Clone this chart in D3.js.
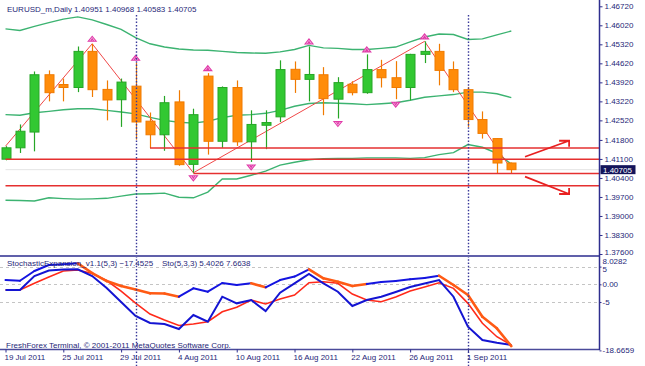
<!DOCTYPE html>
<meta charset="utf-8">
<style>
body {margin: 0; background: #fff;}
svg text {font-family: "Liberation Sans", Arial, sans-serif; font-size: 8px; fill: #1f1f78;}
</style>
<html>
<body>
<script src="https://d3js.org/d3.v7.min.js"></script>
<script>
var width = 645,
    height = 366;

// daily bars, EURUSD
var dates = ["2011-07-19","2011-07-20","2011-07-21","2011-07-22","2011-07-25","2011-07-26","2011-07-27","2011-07-28","2011-07-29",
  "2011-08-01","2011-08-02","2011-08-03","2011-08-04","2011-08-05","2011-08-08","2011-08-09","2011-08-10","2011-08-11","2011-08-12",
  "2011-08-15","2011-08-16","2011-08-17","2011-08-18","2011-08-19","2011-08-22","2011-08-23","2011-08-24","2011-08-25","2011-08-26",
  "2011-08-29","2011-08-30","2011-08-31","2011-09-01","2011-09-02","2011-09-05","2011-09-06"];
var open  = [1.4109,1.4151,1.4209,1.4420,1.4384,1.4373,1.4506,1.4366,1.4328,1.4378,1.4249,1.4199,1.4320,1.4090,1.4415,1.4175,1.4373,1.4173,
  1.4234,1.4265,1.4440,1.4403,1.4420,1.4330,1.4385,1.4354,1.4439,1.4409,1.4373,1.4495,1.4506,1.4439,1.4365,1.4255,1.4185,1.40951];
var high  = [1.4157,1.4237,1.4432,1.4436,1.4406,1.4524,1.4534,1.4399,1.4406,1.4464,1.4281,1.4342,1.4363,1.4295,1.4426,1.4377,1.4399,1.4289,
  1.4289,1.4473,1.4469,1.4524,1.4448,1.4411,1.4396,1.4495,1.4475,1.4470,1.4497,1.4543,1.4534,1.4469,1.4375,1.4285,1.4186,1.40968];
var low   = [1.4105,1.4132,1.4138,1.4322,1.4322,1.4356,1.4338,1.4252,1.4228,1.4181,1.4150,1.4140,1.4085,1.4059,1.4126,1.4151,1.4158,1.4099,
  1.4146,1.4246,1.4353,1.4322,1.4271,1.4259,1.4344,1.4350,1.4373,1.4330,1.4326,1.4463,1.4381,1.4356,1.4228,1.4185,1.4057,1.40583];
var close = [1.4151,1.4212,1.4420,1.4354,1.4373,1.4506,1.4365,1.4327,1.4393,1.4246,1.4199,1.4317,1.4089,1.4273,1.4175,1.4373,1.4173,1.4237,
  1.4244,1.4439,1.4403,1.4421,1.4332,1.4391,1.4354,1.4439,1.4409,1.4373,1.4495,1.4506,1.4436,1.4365,1.4255,1.4204,1.4095,1.40705];

// bollinger bands
var bbUpper  = [1.4589,1.4583,1.4598,1.4612,1.4625,1.4633,1.4622,1.4605,1.4587,1.4557,1.4534,1.4522,1.4515,1.4511,1.4510,1.4506,1.4502,1.4500,
  1.4499,1.4504,1.4513,1.4528,1.4519,1.4517,1.4513,1.4513,1.4517,1.4522,1.4541,1.4559,1.4570,1.4568,1.4550,1.4552,1.4567,1.4581];
var bbMiddle = [1.4273,1.4271,1.4280,1.4285,1.4291,1.4295,1.4295,1.4289,1.4283,1.4276,1.4263,1.4252,1.4245,1.4242,1.4249,1.4262,1.4271,1.4273,
  1.4278,1.4289,1.4304,1.4314,1.4317,1.4315,1.4313,1.4310,1.4313,1.4317,1.4326,1.4337,1.4342,1.4347,1.4356,1.4356,1.4350,1.4336];
var bbLower  = [1.3958,1.3957,1.3955,1.3967,1.3964,1.3962,1.3963,1.3965,1.3973,1.3981,1.3982,1.3984,1.3969,1.3967,1.3988,1.4036,1.4036,1.4050,
  1.4065,1.4087,1.4098,1.4107,1.4111,1.4112,1.4112,1.4114,1.4114,1.4114,1.4112,1.4115,1.4126,1.4133,1.4163,1.4153,1.4131,1.4091];

// drawn objects
var levels = [1.41506, 1.41091, 1.40565, 1.40110];
var levelStart = [10, 0, 13, 0];
var zigzagBars = [0, 6, 13, 29, 35];
var zigzagPrices = [1.4157, 1.4534, 1.4059, 1.4543, 1.4072];
var fractalUp = [6, 9, 14, 21, 25, 29];
var fractalDown = [13, 17, 23, 27];
var arrowFrom = [[35.95, 1.4118], [35.95, 1.4045]];
var arrowTo = [[39, 1.4177], [39, 1.3981]];
var separators = ["2011-08-01", "2011-09-01"];
var bid = 1.40705;

var priceTicks = [1.376,1.383,1.390,1.397,1.404,1.411,1.418,1.4252,1.4322,1.4392,1.4462,1.4532,1.4602,1.4672];
var dateTicks = ["2011-07-19","2011-07-25","2011-07-29","2011-08-04","2011-08-10","2011-08-16","2011-08-22","2011-08-26","2011-09-01"];

// sub window: StochasticExpansion + Sto(5,3,3)
var seLine    = [1.21,1.02,3.76,5.45,5.65,5.93,3.19,0.93,-0.48,-1.47,-2.54,-2.6,-3.5,-1.13,-2.09,0.37,-0.2,0.28,
  -0.85,1.21,2.2,4.24,1.69,0.73,-0.48,0.08,0.65,0.93,1.41,1.78,2.43,-0.2,-3.02,-9.15,-12.43,-17.4525];
var seFalling = [6,7,8,9,10,11,12,18,22,23,24,25,31,32,33,34,35];
var stoMain   = [-1.61,-1.61,2.34,3.9,4.18,4.24,2.34,-1.05,-5.0,-8.95,-10.93,-11.21,-12.63,-8.67,-10.56,-3.5,-5.37,-4.44,
  -7.54,-2.37,0.28,2.91,0.28,-2.09,-6.13,-4.44,-3.5,-2.18,-0.76,0.23,1.21,-3.5,-11.98,-15.73,-16.5,-17.15];
var stoSignal = [-1.61,-1.61,0.28,2.06,3.76,4.04,3.05,1.07,-1.89,-5.28,-8.39,-10.08,-11.64,-11.21,-10.56,-7.74,-6.5,-4.44,
  -5.56,-4.15,-3.02,0.45,0.73,0.28,-2.74,-4.44,-4.92,-3.59,-1.89,-0.76,0.45,-1.13,-5.37,-11.02,-14.8,-17.15];
var subTicks = [8.0282, 5, 0, -5, -18.6659];
var subTickLabels = ["8.0282", "5", "0.00", "-5", "-18.6659"];

var svg = d3.select("body").append("svg")
    .attr("width", width)
    .attr("height", height);

var x = d3.scaleLinear().domain([0, dates.length - 1]).range([5.5, 511.3]);
var y = d3.scaleLinear().domain([1.376, 1.4672]).range([254, 6.3]);
var ySub = d3.scaleLinear().domain([-18.6659, 8.0282]).range([350.4, 255.9]);
var idx = function(d) { return dates.indexOf(d); };
var parse = d3.timeParse("%Y-%m-%d"), fmt = d3.timeFormat("%-d %b %Y");

svg.append("clipPath").attr("id", "main").append("rect").attr("width", 599).attr("height", 255);
svg.append("clipPath").attr("id", "sub").append("rect").attr("y", 257).attr("width", 599).attr("height", 92);

var main = svg.append("g").attr("clip-path", "url(#main)");

// bid line
main.append("line")
    .attr("x1", x(0)).attr("x2", 599)
    .attr("y1", y(bid)).attr("y2", y(bid))
    .attr("stroke", "#e4e4e4").attr("stroke-width", 1);

// bands
var bandLine = function(arr) {
  return d3.line().x(function(d, i) { return x(i); }).y(function(d) { return y(d); })(arr);
};
[bbUpper, bbMiddle, bbLower].forEach(function(b) {
  main.append("path").attr("d", bandLine(b))
      .attr("fill", "none").attr("stroke", "#3cb371").attr("stroke-width", 1.4);
});

// zigzag
main.append("path")
    .attr("d", d3.line().x(function(d) { return x(d); }).y(function(d, i) { return y(zigzagPrices[i]); })(zigzagBars))
    .attr("fill", "none").attr("stroke", "#f04848").attr("stroke-width", 1);

// candles
var candles = main.selectAll("g.candle")
    .data(dates)
    .enter().append("g")
    .attr("class", "candle");

candles.each(function(d, i) {
  var g = d3.select(this),
      up = close[i] >= open[i],
      col = up ? "#32c832" : "#ff8c0a",
      edge = up ? "#26a626" : "#f07a00";
  g.append("line")
      .attr("x1", Math.round(x(i)) + 0.5).attr("x2", Math.round(x(i)) + 0.5)
      .attr("y1", y(high[i])).attr("y2", y(low[i]))
      .attr("stroke", edge).attr("stroke-width", 1.2);
  g.append("rect")
      .attr("x", Math.round(x(i)) - 4)
      .attr("width", 9)
      .attr("y", y(Math.max(open[i], close[i])))
      .attr("height", Math.max(1.5, Math.abs(y(open[i]) - y(close[i]))))
      .attr("fill", col).attr("stroke", edge).attr("stroke-width", 1);
});

// horizontal levels
main.selectAll("line.level")
    .data(levels)
    .enter().append("line")
    .attr("class", "level")
    .attr("x1", function(d, i) { return x(levelStart[i]); })
    .attr("x2", 599)
    .attr("y1", function(d) { return y(d); })
    .attr("y2", function(d) { return y(d); })
    .attr("stroke", "#e53030").attr("stroke-width", 1.5);

// fractals
main.selectAll("path.fup")
    .data(fractalUp)
    .enter().append("path")
    .attr("transform", function(d) { return "translate(" + x(d) + "," + (y(high[d]) - 5) + ")"; })
    .attr("d", "M-4,2.5L0,-2.5L4,2.5ZM-1.5,2.5L0,0L1.5,2.5")
    .attr("fill", "#f7c6ea").attr("stroke", "#e03aa8").attr("stroke-width", 1.1);
main.selectAll("path.fdn")
    .data(fractalDown)
    .enter().append("path")
    .attr("transform", function(d) { return "translate(" + x(d) + "," + (y(low[d]) + 5.5) + ")"; })
    .attr("d", "M-4,-2.5L0,2.5L4,-2.5ZM-1.5,-2.5L0,0L1.5,-2.5")
    .attr("fill", "#f7c6ea").attr("stroke", "#e03aa8").attr("stroke-width", 1.1);

// arrows
arrowFrom.forEach(function(f, k) {
  var t = arrowTo[k], x0 = x(f[0]), y0 = y(f[1]), x1 = x(t[0]), y1 = y(t[1]);
  var dir = y1 < y0 ? 1 : -1;
  main.append("path")
      .attr("d", "M" + x0 + "," + y0 + "L" + x1 + "," + y1 +
                 "M" + (x1 - 10) + "," + y1 + "L" + x1 + "," + y1 + "L" + x1 + "," + (y1 + dir * 6))
      .attr("fill", "none").attr("stroke", "#e82020").attr("stroke-width", 1.8);
});

// title
svg.append("rect").attr("width", 212).attr("height", 15).attr("fill", "#fff");
svg.append("text").attr("x", 7).attr("y", 11.5)
    .text("EURUSD_m,Daily  " + [open[35], high[35], low[35], close[35]].map(d3.format(".5f")).join(" "));

// sub window
var sub = svg.append("g").attr("clip-path", "url(#sub)");
sub.selectAll("line.grid")
    .data([5, 0, -5])
    .enter().append("line")
    .attr("x1", 0).attr("x2", 599)
    .attr("y1", function(d) { return Math.round(ySub(d)) + 0.5; })
    .attr("y2", function(d) { return Math.round(ySub(d)) + 0.5; })
    .attr("stroke", "#c4c4c4").attr("stroke-dasharray", "3,3");

var subLine = d3.line().x(function(d, i) { return x(i); }).y(function(d) { return ySub(d); });
sub.append("path").attr("d", subLine(stoSignal))
    .attr("fill", "none").attr("stroke", "#ff2a1a").attr("stroke-width", 1.6);
sub.append("path").attr("d", subLine(stoMain))
    .attr("fill", "none").attr("stroke", "#1414d2").attr("stroke-width", 2);
seLine.forEach(function(v, i) {
  if (i === 0) return;
  var down = seFalling.indexOf(i) >= 0;
  sub.append("line")
      .attr("x1", x(i - 1)).attr("y1", ySub(seLine[i - 1]))
      .attr("x2", x(i)).attr("y2", ySub(v))
      .attr("stroke", down ? "#ff5a14" : "#1414e0")
      .attr("stroke-width", down ? 2.6 : 2)
      .attr("stroke-linecap", "round");
});

svg.append("text").attr("x", 7).attr("y", 266)
    .text("StochasticExpansion_v1.1(5,3) " + d3.format(".4f")(seLine[35]));
svg.append("text").attr("x", 162).attr("y", 266)
    .text("Sto(5,3,3) 5.4026 7.6638");
svg.append("text").attr("x", 6).attr("y", 347.5)
    .text("FreshForex Terminal, \u00a9 2001-2011 MetaQuotes Software Corp.");

// separators
svg.selectAll("line.sep")
    .data(separators)
    .enter().append("line")
    .attr("x1", function(d) { return Math.round(x(idx(d))) + 0.5; })
    .attr("x2", function(d) { return Math.round(x(idx(d))) + 0.5; })
    .attr("y1", 15).attr("y2", 366)
    .attr("stroke", "#3a3a9a").attr("stroke-width", 1.4).attr("stroke-dasharray", "1.5,1.8");

// frame
svg.append("line").attr("x1", 0).attr("x2", 600).attr("y1", 256).attr("y2", 256)
    .attr("stroke", "#6060aa").attr("stroke-width", 2);
svg.append("line").attr("x1", 0).attr("x2", 600).attr("y1", 349.5).attr("y2", 349.5)
    .attr("stroke", "#4a4a9a").attr("stroke-width", 1.5);
svg.append("line").attr("x1", 599.5).attr("x2", 599.5).attr("y1", 0).attr("y2", 350)
    .attr("stroke", "#2e2e8e").attr("stroke-width", 1.5);

// price axis
var yAxis = svg.append("g").attr("transform", "translate(599.5,0)")
    .call(d3.axisRight(y).tickValues(priceTicks).tickFormat(d3.format(".5f")).tickSize(3).tickPadding(2));
yAxis.select(".domain").remove();
yAxis.selectAll("line").attr("stroke", "#2e2e8e");
yAxis.selectAll("text").attr("font-size", 8).attr("font-family", "Liberation Sans, Arial, sans-serif").attr("fill", "#1f1f78");
yAxis.selectAll(".tick").filter(function(d) { return d === priceTicks[0]; })
    .select("text").attr("dy", "0.05em").attr("font-size", 7);

// bid label
svg.append("rect").attr("x", 600.5).attr("y", y(bid) - 4.5).attr("width", 35).attr("height", 9).attr("fill", "#14145a");
svg.append("text").attr("x", 603).attr("y", y(bid) + 3).attr("fill", "#fff").style("fill", "#fff")
    .text(d3.format(".5f")(bid));

// sub axis
var subAxis = svg.append("g").attr("transform", "translate(599.5,0)")
    .call(d3.axisRight(ySub).tickValues(subTicks).tickFormat(function(d, i) { return subTickLabels[i]; }).tickSize(2).tickPadding(1));
subAxis.select(".domain").remove();
subAxis.selectAll("line").attr("stroke", "#2e2e8e");
subAxis.selectAll("text").attr("font-size", 8).attr("font-family", "Liberation Sans, Arial, sans-serif").attr("fill", "#1f1f78");
subAxis.selectAll(".tick").filter(function(d) { return d === subTicks[0]; })
    .call(function(t) {
      t.select("line").remove();
      t.select("text").attr("dy", "0.9em").attr("font-size", 7);
    });
subAxis.selectAll(".tick").filter(function(d) { return d === subTicks[1]; })
    .select("text").attr("dy", "0.55em").attr("font-size", 7);

// date axis
var xAxis = svg.append("g").attr("transform", "translate(0,349.5)")
    .call(d3.axisBottom(x).tickValues(dateTicks.map(idx))
      .tickFormat(function(d) { return fmt(parse(dates[d])); }).tickSize(3).tickPadding(2));
xAxis.select(".domain").remove();
xAxis.selectAll("line").attr("stroke", "#2e2e8e");
xAxis.selectAll("text").attr("text-anchor", "start").attr("dx", -1.5)
    .attr("font-size", 8).attr("font-family", "Liberation Sans, Arial, sans-serif").attr("fill", "#1f1f78");
</script>
</body>
</html>
